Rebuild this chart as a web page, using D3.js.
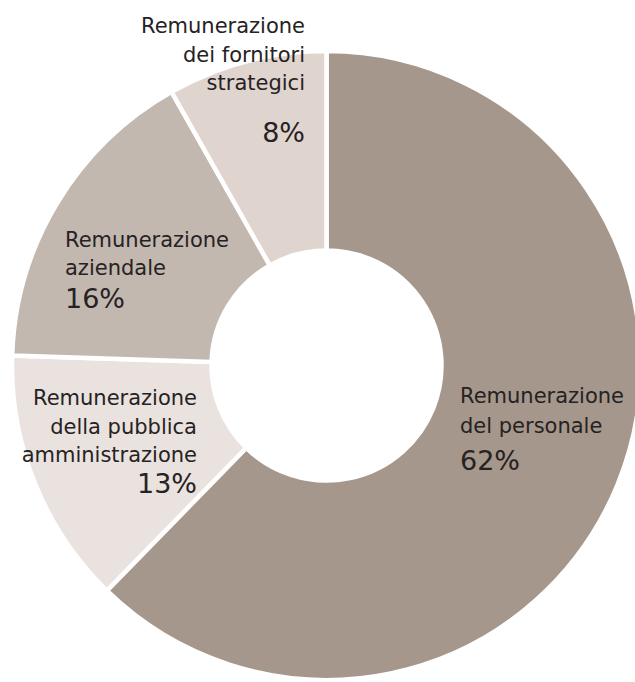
<!DOCTYPE html>
<html>
<head>
<meta charset="utf-8">
<script src="https://cdn.jsdelivr.net/npm/d3@7"></script>
<style>
  body { margin: 0; background: #ffffff; }
  svg { display: block; }
  .label { font-family: "DejaVu Sans", sans-serif; fill: #262223; }
</style>
</head>
<body>
<div id="chart"></div>
<script>
// Slice data (clockwise from 12 o'clock)
let categories = ["personale", "pubblica", "aziendale", "fornitori"];
let values = [62.3, 13.2, 16.3, 8.2];
let percentLabels = ["62%", "13%", "16%", "8%"];
let nameLines = [
  ["Remunerazione", "del personale"],
  ["Remunerazione", "della pubblica", "amministrazione"],
  ["Remunerazione", "aziendale"],
  ["Remunerazione", "dei fornitori", "strategici"]
];
let colors = ["#a5978b", "#eae2de", "#c3b8af", "#e0d4cf"];

// SVG size
let svgWidth = 635;
let svgHeight = 682;

// Donut geometry
let cx = 326.5;
let cy = 365.5;
let outerR = 314.5;
let innerR = 115;

let svg = d3.select("#chart")
  .append("svg")
  .attr("width", svgWidth)
  .attr("height", svgHeight);

let pie = d3.pie().sort(null).value(d => d);
let arc = d3.arc().innerRadius(innerR).outerRadius(outerR);

let slices = pie(values);

let g = svg.append("g")
  .attr("transform", `translate(${cx}, ${cy})`);

g.selectAll("path")
  .data(slices)
  .enter()
  .append("path")
  .attr("d", arc)
  .attr("fill", (d, i) => colors[i])
  .attr("stroke", "#ffffff")
  .attr("stroke-width", 4.5)
  .attr("stroke-linejoin", "miter");

// Label placement (absolute page coordinates): anchor x, first baseline, line step, percent baseline
let labelLayout = [
  { x: 460, y: 403, step: 30, py: 470, anchor: "start" },
  { x: 197, y: 405, step: 28.5, py: 493, anchor: "end" },
  { x: 65, y: 247, step: 27.5, py: 308, anchor: "start" },
  { x: 305, y: 33, step: 28.5, py: 142, anchor: "end" }
];

slices.forEach(function (s, i) {
  let pos = labelLayout[i];
  let t = svg.append("text")
    .attr("class", "label")
    .attr("text-anchor", pos.anchor)
    .style("font-size", "21px");
  nameLines[i].forEach(function (line, j) {
    t.append("tspan")
      .attr("x", pos.x)
      .attr("y", pos.y + j * pos.step)
      .text(line);
  });
  svg.append("text")
    .attr("class", "label")
    .attr("text-anchor", pos.anchor)
    .attr("x", pos.x)
    .attr("y", pos.py)
    .style("font-size", "27px")
    .text(percentLabels[i]);
});
</script>
</body>
</html>
